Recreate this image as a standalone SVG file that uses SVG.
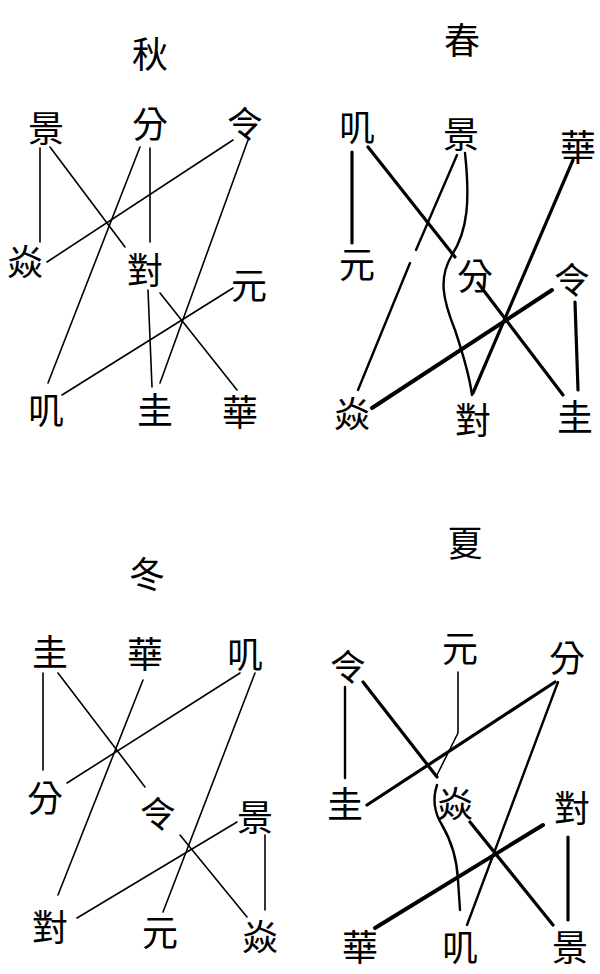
<svg xmlns="http://www.w3.org/2000/svg" width="600" height="974" viewBox="0 0 600 974">
<style>
text{font-family:"Noto Sans CJK TC","Noto Sans CJK SC",sans-serif;font-size:36px;fill:#000;text-anchor:middle;dominant-baseline:central}
.t{font-size:36px}
.e{fill:none;stroke:#000;stroke-linecap:round;stroke-linejoin:round}
.w1{stroke-width:1.6}
.w2{stroke-width:2.4}
.w3{stroke-width:3.2}
.w4{stroke-width:4}
</style>
<rect width="600" height="974" fill="#fff"/>

<!-- Panel 秋 -->
<g id="autumn-title"><text class="t" x="150" y="52">秋</text></g>
<g id="autumn-jing"><text x="46" y="126">景</text></g>
<g id="autumn-fen"><text x="150" y="122">分</text></g>
<g id="autumn-ling"><text x="245" y="122">令</text></g>
<g id="autumn-yan"><text x="25" y="260">焱</text></g>
<g id="autumn-dui"><text x="145" y="268">對</text></g>
<g id="autumn-yuan"><text x="249" y="283">元</text></g>
<g id="autumn-ji"><text x="46" y="408">叽</text></g>
<g id="autumn-gui"><text x="155" y="408">圭</text></g>
<g id="autumn-hua"><text x="240" y="410">華</text></g>

<!-- Panel 春 -->
<g id="spring-title"><text class="t" x="462" y="38">春</text></g>
<g id="spring-ji"><text x="357" y="125">叽</text></g>
<g id="spring-jing"><text x="461" y="132">景</text></g>
<g id="spring-hua"><text x="578" y="145">華</text></g>
<g id="spring-yuan"><text x="357" y="262">元</text></g>
<g id="spring-fen"><text x="475" y="274">分</text></g>
<g id="spring-ling"><text x="572" y="278">令</text></g>
<g id="spring-yan"><text x="352" y="412">焱</text></g>
<g id="spring-dui"><text x="473" y="418">對</text></g>
<g id="spring-gui"><text x="575" y="415">圭</text></g>

<!-- Panel 冬 -->
<g id="winter-title"><text class="t" x="147" y="572">冬</text></g>
<g id="winter-gui"><text x="50" y="650">圭</text></g>
<g id="winter-hua"><text x="145" y="652">華</text></g>
<g id="winter-ji"><text x="245" y="652">叽</text></g>
<g id="winter-fen"><text x="45" y="796">分</text></g>
<g id="winter-ling"><text x="158" y="812">令</text></g>
<g id="winter-jing"><text x="255" y="815">景</text></g>
<g id="winter-dui"><text x="50" y="925">對</text></g>
<g id="winter-yuan"><text x="160" y="930">元</text></g>
<g id="winter-yan"><text x="260" y="935">焱</text></g>

<!-- Panel 夏 -->
<g id="summer-title"><text class="t" x="465" y="541">夏</text></g>
<g id="summer-ling"><text x="348" y="665">令</text></g>
<g id="summer-yuan"><text x="460" y="646">元</text></g>
<g id="summer-fen"><text x="567" y="656">分</text></g>
<g id="summer-gui"><text x="345" y="802">圭</text></g>
<g id="summer-yan"><text x="455" y="802">焱</text></g>
<g id="summer-dui"><text x="572" y="806">對</text></g>
<g id="summer-hua"><text x="360" y="945">華</text></g>
<g id="summer-ji"><text x="460" y="945">叽</text></g>
<g id="summer-jing"><text x="570" y="945">景</text></g>

<g id="connectors">
  <!-- 秋 -->
  <path class="e w1" d="M40 148 L40 242"/>
  <path class="e w1" d="M50 147 L125 247"/>
  <path class="e w1" d="M140 147 L48 383"/>
  <path class="e w1" d="M150 148 L150 242"/>
  <path class="e w1" d="M148 290 L152 387"/>
  <path class="e w1" d="M233 140 L47 262"/>
  <path class="e w1" d="M248 140 L160 383"/>
  <path class="e w1" d="M160 293 L237 390"/>
  <path class="e w1" d="M233 288 L62 395"/>
  <!-- 春 -->
  <path class="e w3" d="M352 152 L352 243"/>
  <path class="e w3" d="M368 147 L455 257"/>
  <path class="e w2" d="M457 155 L416 250"/>
  <path class="e w2" d="M410 263 L358 390"/>
  <path class="e w2" d="M465 153 C470 200 468 230 452 255 C438 278 443 300 455 330 C465 360 470 380 472 395"/>
  <path class="e w3" d="M573 160 L473 393"/>
  <path class="e w4" d="M552 290 L372 408"/>
  <path class="e w3" d="M478 283 L563 395"/>
  <path class="e w3" d="M575 302 L578 390"/>
  <!-- 冬 -->
  <path class="e w1" d="M43 673 L43 770"/>
  <path class="e w1" d="M58 673 L145 787"/>
  <path class="e w1" d="M143 680 L58 895"/>
  <path class="e w1" d="M240 673 L67 783"/>
  <path class="e w1" d="M255 673 L163 912"/>
  <path class="e w1" d="M237 822 L77 918"/>
  <path class="e w1" d="M180 835 L247 917"/>
  <path class="e w1" d="M265 835 L265 910"/>
  <!-- 夏 -->
  <path class="e w2" d="M345 687 L345 778"/>
  <path class="e w3" d="M363 682 L437 777"/>
  <path class="e w1" d="M458 672 L458 733 L437 775"/>
  <path class="e w3" d="M555 682 L367 805"/>
  <path class="e w2" d="M558 682 L467 925"/>
  <path class="e w3" d="M470 822 L553 925"/>
  <path class="e w4" d="M543 825 L375 928"/>
  <path class="e w3" d="M568 837 L568 920"/>
  <path class="e w2" d="M437 785 C432 800 434 812 442 825 C452 842 457 860 458 880 L460 910"/>
</g>
</svg>
